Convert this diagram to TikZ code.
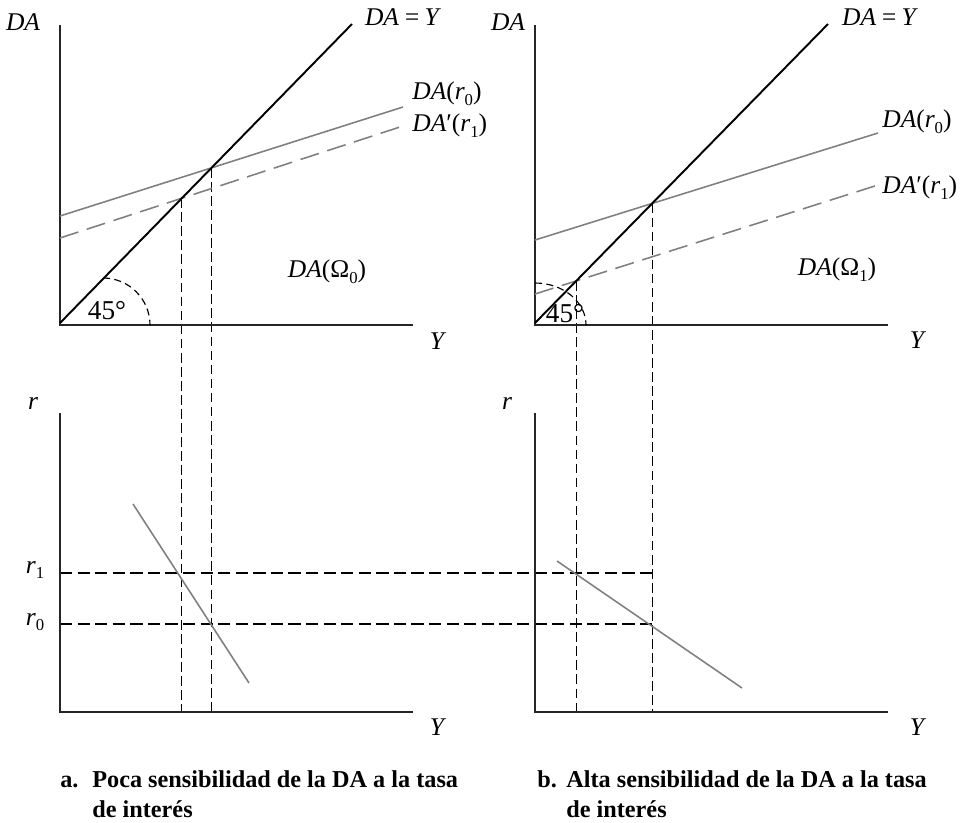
\documentclass[tikz,border=0pt]{standalone}
\usepackage{fontspec}
\setmainfont{Liberation Serif}
\newcommand{\sbs}[1]{\raisebox{-0.5ex}{\fontsize{9.5}{9.5}\selectfont\upshape #1}}
\begin{document}
\begin{tikzpicture}[x=0.02cm,y=-0.02cm,
 axis/.style={draw=black!85,line width=1pt},
 diag/.style={draw=black,line width=1.1pt},
 grayline/.style={draw=black!50,line width=0.9pt},
 graydash/.style={draw=black!50,line width=0.9pt,dash pattern=on 11pt off 5pt},
 guide/.style={draw=black,line width=0.65pt,dash pattern=on 5.5pt off 2.5pt},
 hguide/.style={draw=black,line width=0.65pt,dash pattern=on 7pt off 3pt},
 lbl/.style={font=\fontsize{14.5}{16}\selectfont\itshape, inner sep=0pt},
 numlbl/.style={font=\fontsize{15.5}{17}\selectfont, inner sep=0pt},
 captxt/.style={font=\fontsize{13.8}{16}\selectfont\bfseries, inner sep=0pt, anchor=base west}]
\useasboundingbox (0,0) rectangle (973,822);

% ---------- coordinates: left upper ----------
\coordinate (OA) at (60,325);
\coordinate (AyT) at (60,25);
\coordinate (AxR) at (413,325);
\coordinate (AdS) at (60,323);
\coordinate (AdE) at (352,24);
\coordinate (Ar0S) at (60,216);
\coordinate (Ar0E) at (403,107);
\coordinate (Ar1S) at (60,238);
\coordinate (Ar1E) at (403,126);
% ---------- right upper ----------
\coordinate (OB) at (535,325);
\coordinate (ByT) at (535,25);
\coordinate (BxR) at (888,325);
\coordinate (BdS) at (535,323);
\coordinate (BdE) at (828,24);
\coordinate (Br0S) at (535,240);
\coordinate (Br0E) at (878,133);
\coordinate (Br1S) at (535,294);
\coordinate (Br1E) at (878,185);
% ---------- lower panels ----------
\coordinate (OC) at (60,712);
\coordinate (CyT) at (60,413);
\coordinate (CxR) at (413,712);
\coordinate (OD) at (535,712);
\coordinate (DyT) at (535,413);
\coordinate (DxR) at (888,712);
\coordinate (R1) at (60,573);
\coordinate (R0) at (60,624);
\coordinate (CdS) at (133,504);
\coordinate (CdE) at (249,683);
\coordinate (DdS) at (557,561);
\coordinate (DdE) at (742,688);

% intersections
\coordinate (IA0) at (intersection of AdS--AdE and Ar0S--Ar0E);
\coordinate (IA1) at (intersection of AdS--AdE and Ar1S--Ar1E);
\coordinate (IB0) at (intersection of BdS--BdE and Br0S--Br0E);
\coordinate (IB1) at (intersection of BdS--BdE and Br1S--Br1E);

% ---------- dashed guides ----------
\draw[guide] (IA1) -- (IA1 |- OC);
\draw[guide] (IA0) -- (IA0 |- OC);
\draw[guide] (IB1) -- (IB1 |- OD);
\draw[guide] (IB0) -- (IB0 |- OD);
\draw[hguide] (R1) -- (R1 -| IB0);
\draw[hguide] (R0) -- (R0 -| IB0);

% ---------- axes ----------
\draw[axis] (AyT) -- (OA) -- (AxR);
\draw[axis] (ByT) -- (OB) -- (BxR);
\draw[axis] (CyT) -- (OC) -- (CxR);
\draw[axis] (DyT) -- (OD) -- (DxR);

% ---------- curves ----------
\draw[grayline] (Ar0S) -- (Ar0E);
\draw[graydash] (Ar1S) -- (Ar1E);
\draw[diag] (AdS) -- (AdE);
\draw[grayline] (Br0S) -- (Br0E);
\draw[graydash] (Br1S) -- (Br1E);
\draw[diag] (BdS) -- (BdE);
\draw[grayline] (CdS) -- (CdE);
\draw[grayline] (DdS) -- (DdE);

% 45 degree arcs
\draw[guide,dash pattern=on 4pt off 2.5pt] (103,278) arc[start angle=-90,end angle=0,radius=47];
\draw[guide,dash pattern=on 4pt off 2.5pt] (535,283) arc[start angle=-90,end angle=0,x radius=51,y radius=42];

% ---------- labels ----------
\node[lbl] (lDA1) at (23,22) {DA};
\node[lbl] (lDAY1) at (402,17) {DA\,=\,Y};
\node[lbl,anchor=west] (lr0A) at (412,94) {DA\upshape(\itshape r\sbs{0}\upshape)};
\node[lbl,anchor=west] (lr1A) at (412,126) {DA\upshape′(\itshape r\sbs{1}\upshape)};
\node[lbl] (lOm0) at (327,272) {DA\upshape(Ω\sbs{0})};
\node[numlbl] (l45A) at (107,311) {45°};
\node[lbl] (lYA) at (437,341) {Y};

\node[lbl] (lDA2) at (508,22) {DA};
\node[lbl] (lDAY2) at (879,17) {DA\,=\,Y};
\node[lbl,anchor=west] (lr0B) at (882,122) {DA\upshape(\itshape r\sbs{0}\upshape)};
\node[lbl,anchor=west] (lr1B) at (882,188) {DA\upshape′(\itshape r\sbs{1}\upshape)};
\node[lbl] (lOm1) at (837,270) {DA\upshape(Ω\sbs{1})};
\node[numlbl] (l45B) at (565,314) {45°};
\node[lbl] (lYB) at (917,340) {Y};

\node[lbl] (lrC) at (33,403) {r};
\node[lbl] (lr1C) at (35,570) {r\sbs{1}};
\node[lbl] (lr0C) at (35,622) {r\sbs{0}};
\node[lbl] (lYC) at (437,727) {Y};
\node[lbl] (lrD) at (507,403) {r};
\node[lbl] (lYD) at (917,727) {Y};

% ---------- captions ----------
\node[captxt] (capA0) at (60,787) {a.};
\node[captxt] (capA1) at (92,787) {Poca sensibilidad de la DA a la tasa};
\node[captxt] (capA2) at (92,817) {de interés};
\node[captxt] (capB0) at (537,787) {b.};
\node[captxt] (capB1) at (566,787) {Alta sensibilidad de la DA a la tasa};
\node[captxt] (capB2) at (566,817) {de interés};
\end{tikzpicture}
\end{document}
